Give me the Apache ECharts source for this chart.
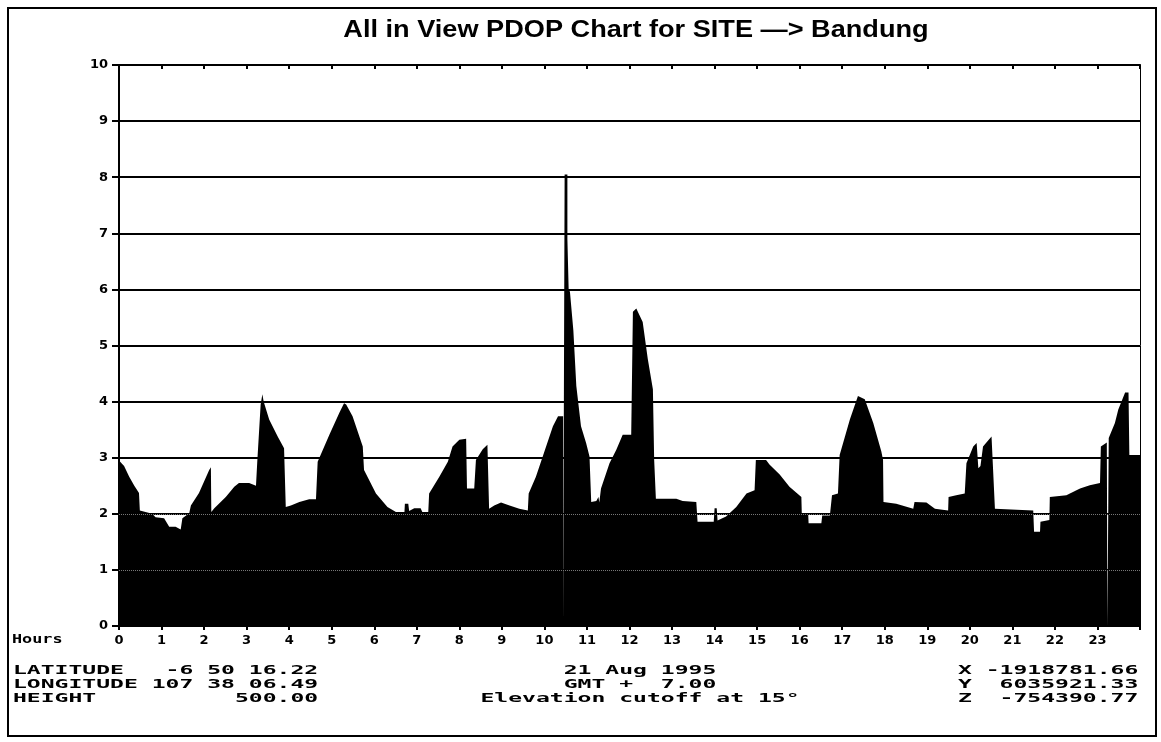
<!DOCTYPE html>
<html>
<head>
<meta charset="utf-8">
<script src="https://cdn.jsdelivr.net/npm/echarts@6/dist/echarts.min.js"></script>
<style>
html,body{margin:0;padding:0;background:#fff;}
#chart{width:1161px;height:742px;}
</style>
</head>
<body>
<div id="chart"></div>
<script>
// Hours since 0h (local) and PDOP values
const hours = [
  0,0.12,0.24,0.36,0.47,0.49,0.78,0.86,1.06,1.18,
  1.33,1.45,1.49,1.65,1.69,1.88,2.12,2.16,2.17,2.24,
  2.51,2.71,2.82,3.06,3.22,3.25,3.33,3.37,3.40,3.53,
  3.73,3.88,3.92,4.04,4.24,4.47,4.63,4.67,4.94,5.18,
  5.29,5.34,5.49,5.73,5.76,6.04,6.31,6.51,6.71,6.72,
  6.80,6.82,6.94,7.09,7.10,7.13,7.27,7.29,7.53,7.73,
  7.84,8.00,8.16,8.18,8.35,8.39,8.55,8.66,8.70,8.82,
  8.98,9.18,9.41,9.61,9.63,9.80,10.00,10.20,10.32,10.44,
  10.44,10.475,10.475,10.54,10.54,10.57,10.60,10.68,10.75,10.86,
  10.98,11.06,11.10,11.22,11.27,11.29,11.32,11.33,11.53,11.69,
  11.84,12.04,12.08,12.16,12.31,12.43,12.55,12.58,12.62,13.10,
  13.25,13.57,13.60,13.98,14.00,14.05,14.07,14.27,14.51,14.75,
  14.94,14.97,15.21,15.29,15.53,15.76,16.04,16.05,16.20,16.21,
  16.51,16.53,16.71,16.76,16.90,16.94,17.18,17.37,17.53,17.73,
  17.92,17.96,17.97,18.27,18.67,18.70,18.98,19.18,19.21,19.49,
  19.50,19.68,19.88,19.92,20.08,20.16,20.20,20.25,20.31,20.51,
  20.55,20.59,21.49,21.51,21.65,21.66,21.87,21.88,22.27,22.59,
  22.82,23.06,23.08,23.22,23.235,23.235,23.265,23.265,23.29,23.41,
  23.49,23.65,23.73,23.75,24.00
];
const pdop = [
  2.95,2.85,2.66,2.50,2.37,2.06,2.00,1.94,1.92,1.77,
  1.77,1.72,1.92,2.01,2.15,2.37,2.78,2.83,2.03,2.10,
  2.30,2.48,2.55,2.55,2.50,2.93,3.95,4.13,4.00,3.68,
  3.38,3.17,2.12,2.15,2.21,2.26,2.26,2.93,3.40,3.80,
  3.97,3.95,3.74,3.20,2.78,2.36,2.12,2.03,2.03,2.18,
  2.18,2.05,2.10,2.10,2.13,2.03,2.03,2.36,2.66,2.93,
  3.20,3.32,3.34,2.45,2.45,2.96,3.15,3.23,2.09,2.15,
  2.20,2.15,2.09,2.06,2.36,2.66,3.11,3.56,3.74,3.74,
  0,0,8.05,8.05,6.90,6.00,5.96,5.27,4.28,3.56,
  3.26,3.02,2.21,2.23,2.30,2.20,2.20,2.45,2.90,3.14,
  3.41,3.41,5.60,5.66,5.42,4.76,4.22,2.96,2.27,2.27,
  2.23,2.21,1.86,1.86,2.10,2.10,1.88,1.95,2.12,2.36,
  2.42,2.96,2.96,2.88,2.70,2.48,2.30,2.00,2.00,1.83,
  1.83,1.97,1.97,2.33,2.36,3.05,3.68,4.10,4.04,3.62,
  3.11,2.96,2.21,2.18,2.09,2.21,2.20,2.09,2.06,2.06,
  2.30,2.33,2.36,2.90,3.20,3.26,2.81,2.85,3.20,3.38,
  3.40,2.09,2.06,1.68,1.68,1.86,1.89,2.30,2.33,2.45,
  2.51,2.55,3.20,3.27,3.27,0,0,3.35,3.38,3.62,
  3.86,4.16,4.16,3.05,3.05
];
const hourLabels = ['0','1','2','3','4','5','6','7','8','9','10','11','12','13','14','15','16','17','18','19','20','21','22','23',''];
const yLabels = ['0','1','2','3','4','5','6','7','8','9','10'];

const titleText = 'All in View PDOP Chart for SITE \u2014> Bandung';
const infoLeft = ['LATITUDE   -6 50 16.22', 'LONGITUDE 107 38 06.49', 'HEIGHT          500.00'];
const infoCenter = ['21 Aug 1995', 'GMT +  7.00', 'Elevation cutoff at 15\u00b0'];
const infoRight = ['X -1918781.66', 'Y  6035921.33', 'Z  -754390.77'];

const seriesData = hours.map((h, i) => [h, pdop[i]]);

const chart = echarts.init(document.getElementById('chart'), null, {renderer: 'canvas'});
const labelFont = {color: '#000', fontFamily: 'DejaVu Sans', fontWeight: 'bold', fontSize: 13};
const monoFont = 'bold 12px "DejaVu Sans Mono"';
const rowY = [671, 685, 699];

const graphics = [
  {type: 'rect', shape: {x: 8, y: 8, width: 1148, height: 728}, style: {fill: null, stroke: '#000', lineWidth: 2}, z: 0, silent: true},
  {type: 'text', x: 636, y: 31, scaleX: 1.18, style: {text: titleText, font: 'bold 23px "Liberation Sans"', fill: '#000', textAlign: 'center', textVerticalAlign: 'middle'}},
  {type: 'text', x: 12, y: 640, scaleX: 1.4, style: {text: 'Hours', font: 'bold 12px "DejaVu Sans Mono"', fill: '#000', textAlign: 'left', textVerticalAlign: 'middle'}}
];
infoLeft.forEach((t, i) => graphics.push({type: 'text', x: 13, y: rowY[i], scaleX: 1.92, style: {text: t, font: monoFont, fill: '#000', textAlign: 'left', textVerticalAlign: 'middle'}}));
infoCenter.forEach((t, i) => graphics.push({type: 'text', x: 640, y: rowY[i], scaleX: 1.92, style: {text: t, font: monoFont, fill: '#000', textAlign: 'center', textVerticalAlign: 'middle'}}));
infoRight.forEach((t, i) => graphics.push({type: 'text', x: 958, y: rowY[i], scaleX: 1.92, style: {text: t, font: monoFont, fill: '#000', textAlign: 'left', textVerticalAlign: 'middle'}}));

chart.setOption({
  animation: false,
  backgroundColor: '#fff',
  grid: {left: 119, right: 21, top: 65, bottom: 116, containLabel: false},
  xAxis: [
    {
      type: 'value', min: 0, max: 24, interval: 1, position: 'bottom',
      axisLine: {show: true, onZero: false, lineStyle: {color: '#000', width: 2}},
      axisTick: {show: true, inside: false, length: 4, lineStyle: {color: '#000', width: 2}},
      axisLabel: Object.assign({margin: 8, formatter: (v) => hourLabels[Math.round(v)] || ''}, labelFont),
      splitLine: {show: false}
    },
    {
      type: 'value', min: 0, max: 24, interval: 1, position: 'top',
      axisLine: {show: true, onZero: false, lineStyle: {color: '#000', width: 2}},
      axisTick: {show: true, inside: true, length: 4, lineStyle: {color: '#000', width: 2}},
      axisLabel: {show: false},
      splitLine: {show: false}
    }
  ],
  yAxis: [
    {
      type: 'value', min: 0, max: 10, interval: 1, position: 'left',
      axisLine: {show: true, onZero: false, lineStyle: {color: '#000', width: 2}},
      axisTick: {show: true, inside: false, length: 7, lineStyle: {color: '#000', width: 2}},
      axisLabel: Object.assign({margin: 11, formatter: (v) => yLabels[Math.round(v)]}, labelFont),
      splitLine: {show: true, lineStyle: {color: '#000', width: 2}}
    },
    {
      type: 'value', min: 0, max: 10, interval: 1, position: 'right',
      axisLine: {show: true, onZero: false, lineStyle: {color: '#000', width: 1}},
      axisTick: {show: false}, axisLabel: {show: false}, splitLine: {show: false}
    }
  ],
  series: [{
    type: 'line',
    xAxisIndex: 0, yAxisIndex: 0,
    data: seriesData,
    showSymbol: false,
    symbol: 'none',
    smooth: false,
    lineStyle: {width: 0, color: '#000'},
    areaStyle: {color: '#000', opacity: 1},
    silent: true,
    markLine: {
      silent: true, symbol: 'none', animation: false,
      label: {show: false},
      lineStyle: {color: '#777', type: 'dotted', width: 1},
      data: [{yAxis: 1}, {yAxis: 2}]
    }
  }],
  graphic: graphics
});
</script>
</body>
</html>
